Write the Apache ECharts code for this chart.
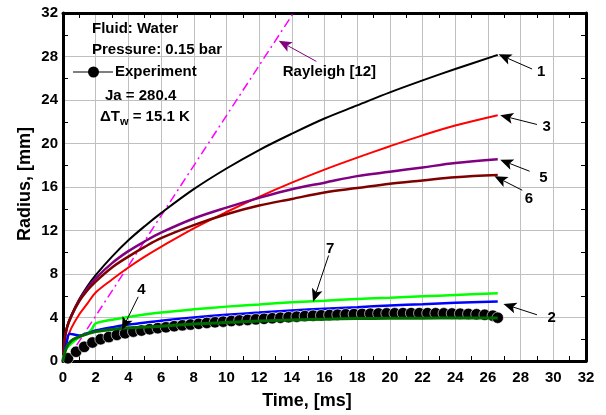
<!DOCTYPE html>
<html>
<head>
<meta charset="utf-8">
<script src="https://cdn.jsdelivr.net/npm/echarts@6/dist/echarts.min.js"></script>
<style>
  html, body { margin: 0; padding: 0; background: #fff; }
  #chart { width: 606px; height: 415px; }
</style>
</head>
<body>
<div id="chart"></div>
<script>
// Bubble radius vs. time, water at 0.15 bar (Ja = 280.4, dTw = 15.1 K)

// Model curves 1, 3, 5, 6 share one time grid [ms]
const tModel = [0, 0.1, 0.25, 0.5, 1, 1.5, 2, 3, 4, 5, 6, 8, 10, 12, 14, 16, 18, 20, 22, 24, 26.6];
const rModel1 = [0, 2.0, 3.2, 4.2, 5.7, 6.9, 7.9, 9.6, 11.1, 12.4, 13.6, 15.8, 17.7, 19.4, 20.9, 22.3, 23.5, 24.7, 25.8, 26.85, 28.15];
const rModel3 = [0, 1.1, 2.0, 3.0, 4.3, 5.3, 6.3, 7.5, 8.6, 9.6, 10.5, 12.2, 13.7, 15.1, 16.4, 17.6, 18.7, 19.75, 20.75, 21.65, 22.6];
const rModel5 = [0, 1.9, 3.1, 4.1, 5.6, 6.7, 7.6, 9.0, 10.1, 11.0, 11.8, 13.1, 14.1, 15.0, 15.8, 16.4, 17.0, 17.4, 17.8, 18.2, 18.55];
const rModel6 = [0, 1.9, 3.1, 4.1, 5.5, 6.5, 7.3, 8.6, 9.6, 10.5, 11.3, 12.5, 13.5, 14.3, 14.9, 15.5, 15.9, 16.3, 16.6, 16.9, 17.1];

// Model 2 (blue)
const tModel2 = [0, 0.2, 0.4, 0.6, 1.0, 1.5, 2, 3, 4, 6, 8, 10, 12, 14, 16, 18, 20, 22, 24, 26.6];
const rModel2 = [0, 1.5, 2.5, 2.45, 2.35, 2.55, 2.8, 3.1, 3.35, 3.7, 4.0, 4.25, 4.45, 4.65, 4.8, 4.95, 5.1, 5.22, 5.35, 5.46];

// Model 7 (green)
const tModel7 = [0, 0.2, 0.5, 1.0, 1.5, 1.75, 2.0, 3, 4, 6, 8, 10, 12, 14, 16, 18, 20, 22, 24, 26.6];
const rModel7 = [0, 1.1, 1.6, 2.2, 2.55, 2.9, 3.45, 3.8, 4.05, 4.45, 4.75, 5.0, 5.2, 5.4, 5.55, 5.7, 5.82, 5.95, 6.07, 6.22];

// Model 4 (dark green)
const tModel4 = [0, 0.2, 0.5, 1, 1.5, 2, 3, 4, 6, 8, 10, 12, 14, 16, 18, 20, 22, 24, 26.6];
const rModel4 = [0, 1.2, 1.85, 2.25, 2.5, 2.7, 2.9, 3.05, 3.2, 3.4, 3.55, 3.68, 3.78, 3.85, 3.9, 3.92, 3.94, 3.95, 3.95];

// Rayleigh solution [12] (straight line)
const tRayleigh = [0.2, 14.1];
const rRayleigh = [0, 32];

// Measured radius
const tExp = [0.3, 0.8, 1.3, 1.8, 2.3, 2.8, 3.3, 3.8, 4.3, 4.8, 5.3, 5.8, 6.3, 6.8, 7.3, 7.8, 8.3, 8.8, 9.3, 9.8,
              10.3, 10.8, 11.3, 11.8, 12.3, 12.8, 13.3, 13.8, 14.3, 14.8, 15.3, 15.8, 16.3, 16.8, 17.3, 17.8, 18.3, 18.8, 19.3, 19.8,
              20.3, 20.8, 21.3, 21.8, 22.3, 22.8, 23.3, 23.8, 24.3, 24.8, 25.3, 25.8, 26.3, 26.6];
const rExp = [0.25, 0.85, 1.3, 1.7, 2.0, 2.2, 2.4, 2.55, 2.7, 2.8, 2.92, 3.02, 3.1, 3.2, 3.28, 3.35, 3.42, 3.5, 3.56, 3.62,
              3.68, 3.73, 3.78, 3.83, 3.88, 3.93, 3.98, 4.03, 4.08, 4.13, 4.17, 4.2, 4.23, 4.26, 4.29, 4.31, 4.33, 4.35, 4.37, 4.38,
              4.39, 4.4, 4.4, 4.4, 4.4, 4.39, 4.38, 4.37, 4.35, 4.33, 4.3, 4.25, 4.17, 3.98];

// Axis ticks
const xTicks = { min: 0, max: 32, step: 2 };
const yTicks = { min: 0, max: 32, step: 4 };

// Curve labels: text, label position, arrow tail, arrow tip (all in ms / mm)
const curveLabels = ['1', '3', '5', '6', '2', '7', '4', 'Rayleigh [12]'];
const labelAt  = [[29.25, 26.6], [29.6, 21.5], [29.4, 16.8], [28.5, 14.9], [29.9, 4.0], [16.35, 10.35], [4.8, 6.55], [16.3, 26.6]];
const arrowTail = [[28.7, 26.85], [29.0, 21.75], [28.55, 17.45], [28.1, 15.7], [29.0, 4.25], [16.25, 9.7], [4.6, 5.9], [15.5, 27.55]];
const arrowTip  = [[26.65, 28.2], [26.75, 22.6], [26.75, 18.5], [26.4, 17.0], [26.95, 5.25], [15.3, 5.45], [3.6, 2.85], [13.2, 29.45]];

const FONT = 'Liberation Sans, Arial, sans-serif';
const zip = (t, r) => t.map((v, i) => [v, r[i]]);

const chart = echarts.init(document.getElementById('chart'), null, { renderer: 'canvas' });

function axisCommon(range, pos, showLabel, showSplit) {
  return {
    type: 'value', position: pos,
    min: range.min, max: range.max, interval: range.step,
    axisLine: { show: true, onZero: false, lineStyle: { color: '#000', width: 3 } },
    axisTick: { show: false, inside: true },
    minorTick: { show: true, splitNumber: 2, length: 5, lineStyle: { color: '#000', width: 1 } },
    splitLine: { show: showSplit, lineStyle: { color: '#c0c0c0', width: 1 } },
    axisLabel: { show: showLabel, color: '#000', fontFamily: FONT, fontWeight: 'bold', fontSize: 15 }
  };
}

const xMain = axisCommon(xTicks, 'bottom', true, true); xMain.axisLabel.margin = 9;
const xTop = axisCommon(xTicks, 'top', false, false);
const yMain = axisCommon(yTicks, 'left', true, true); yMain.axisLabel.margin = 5;
const yRight = axisCommon(yTicks, 'right', false, false);

function curve(name, t, r, color, width) {
  return {
    name, type: 'line', data: zip(t, r), showSymbol: false, symbol: 'none',
    smooth: 0.35,
    lineStyle: { color, width }, z: 3, silent: true, animation: false
  };
}

chart.setOption({
  animation: false,
  grid: { left: 63, right: 20, top: 13, bottom: 54, containLabel: false },
  xAxis: [xMain, xTop],
  yAxis: [yMain, yRight],
  series: [
    {
      name: 'Rayleigh [12]', type: 'line', data: zip(tRayleigh, rRayleigh), showSymbol: false,
      lineStyle: { color: '#ff00ff', width: 1.5, type: [9, 4, 2, 4] }, z: 2, animation: false
    },
    curve('1', tModel, rModel1, '#000000', 2),
    curve('3', tModel, rModel3, '#ff0000', 2),
    curve('5', tModel, rModel5, '#800080', 2.5),
    curve('6', tModel, rModel6, '#800000', 2.5),
    curve('7', tModel7, rModel7, '#00ff00', 2.5),
    curve('2', tModel2, rModel2, '#0000ff', 2.5),
    {
      name: 'Experiment', type: 'scatter', data: zip(tExp, rExp), symbol: 'circle', symbolSize: 11.5,
      itemStyle: { color: '#000', opacity: 1, borderColor: '#fff', borderWidth: 0.6 }, z: 4, animation: false
    },
    Object.assign(curve('4', tModel4, rModel4, '#006a00', 3), { z: 5 })
  ]
});

// Annotations: arrows with labels, and the info block
const g = [];
curveLabels.forEach((txt, i) => {
  const p0 = chart.convertToPixel({ gridIndex: 0 }, arrowTail[i]);
  const p1 = chart.convertToPixel({ gridIndex: 0 }, arrowTip[i]);
  const pl = chart.convertToPixel({ gridIndex: 0 }, labelAt[i]);
  const col = txt.startsWith('Rayleigh') ? '#800080' : '#000';
  const dx = p1[0] - p0[0], dy = p1[1] - p0[1];
  const len = Math.hypot(dx, dy), ux = dx / len, uy = dy / len;
  const headL = 13, headW = 5.5;
  const bx = p1[0] - ux * headL, by = p1[1] - uy * headL;
  g.push({ type: 'line', shape: { x1: p0[0], y1: p0[1], x2: bx + ux * 3, y2: by + uy * 3 },
           style: { stroke: col, lineWidth: 1 }, z: 10 });
  g.push({ type: 'polygon', shape: { points: [
            [p1[0], p1[1]],
            [bx - uy * headW, by + ux * headW],
            [bx + ux * 3, by + uy * 3],
            [bx + uy * headW, by - ux * headW]] },
           style: { fill: col }, z: 10 });
  g.push({ type: 'text', x: pl[0], y: pl[1], z: 11,
           style: { text: txt, fill: '#000', font: 'bold 15px ' + FONT, align: 'center', verticalAlign: 'middle' } });
});

const infoFont = 'bold 15px ' + FONT;
g.push({ type: 'text', x: 92, y: 29, z: 11, style: { text: 'Fluid: Water', font: infoFont, fill: '#000', verticalAlign: 'middle' } });
g.push({ type: 'text', x: 92, y: 50, z: 11, style: { text: 'Pressure: 0.15 bar', font: infoFont, fill: '#000', verticalAlign: 'middle' } });
g.push({ type: 'line', shape: { x1: 73, y1: 72, x2: 113, y2: 72 }, style: { stroke: '#000', lineWidth: 1.2 }, z: 11 });
g.push({ type: 'circle', shape: { cx: 93.5, cy: 72, r: 5.5 }, style: { fill: '#000' }, z: 11 });
g.push({ type: 'text', x: 115, y: 72, z: 11, style: { text: 'Experiment', font: infoFont, fill: '#000', verticalAlign: 'middle' } });
g.push({ type: 'text', x: 105, y: 96, z: 11, style: { text: 'Ja = 280.4', font: infoFont, fill: '#000', verticalAlign: 'middle' } });
g.push({ type: 'text', x: 100, y: 117, z: 11, style: {
  text: '{a|\u0394T}{s|w}{a| = 15.1 K}', verticalAlign: 'middle',
  rich: {
    a: { font: infoFont, fill: '#000', verticalAlign: 'bottom' },
    s: { font: 'bold 11px ' + FONT, fill: '#000', verticalAlign: 'bottom', padding: [0, 0, -3, 0] }
  } } });

// Axis titles
g.push({ type: 'text', x: 307, y: 401, z: 11, style: { text: 'Time, [ms]', font: 'bold 18px ' + FONT, fill: '#000', align: 'center', verticalAlign: 'middle' } });
g.push({ type: 'text', x: 25, y: 184, rotation: Math.PI / 2, z: 11, style: { text: 'Radius, [mm]', font: 'bold 18px ' + FONT, fill: '#000', align: 'center', verticalAlign: 'middle' } });

chart.setOption({ graphic: g });
</script>
</body>
</html>
